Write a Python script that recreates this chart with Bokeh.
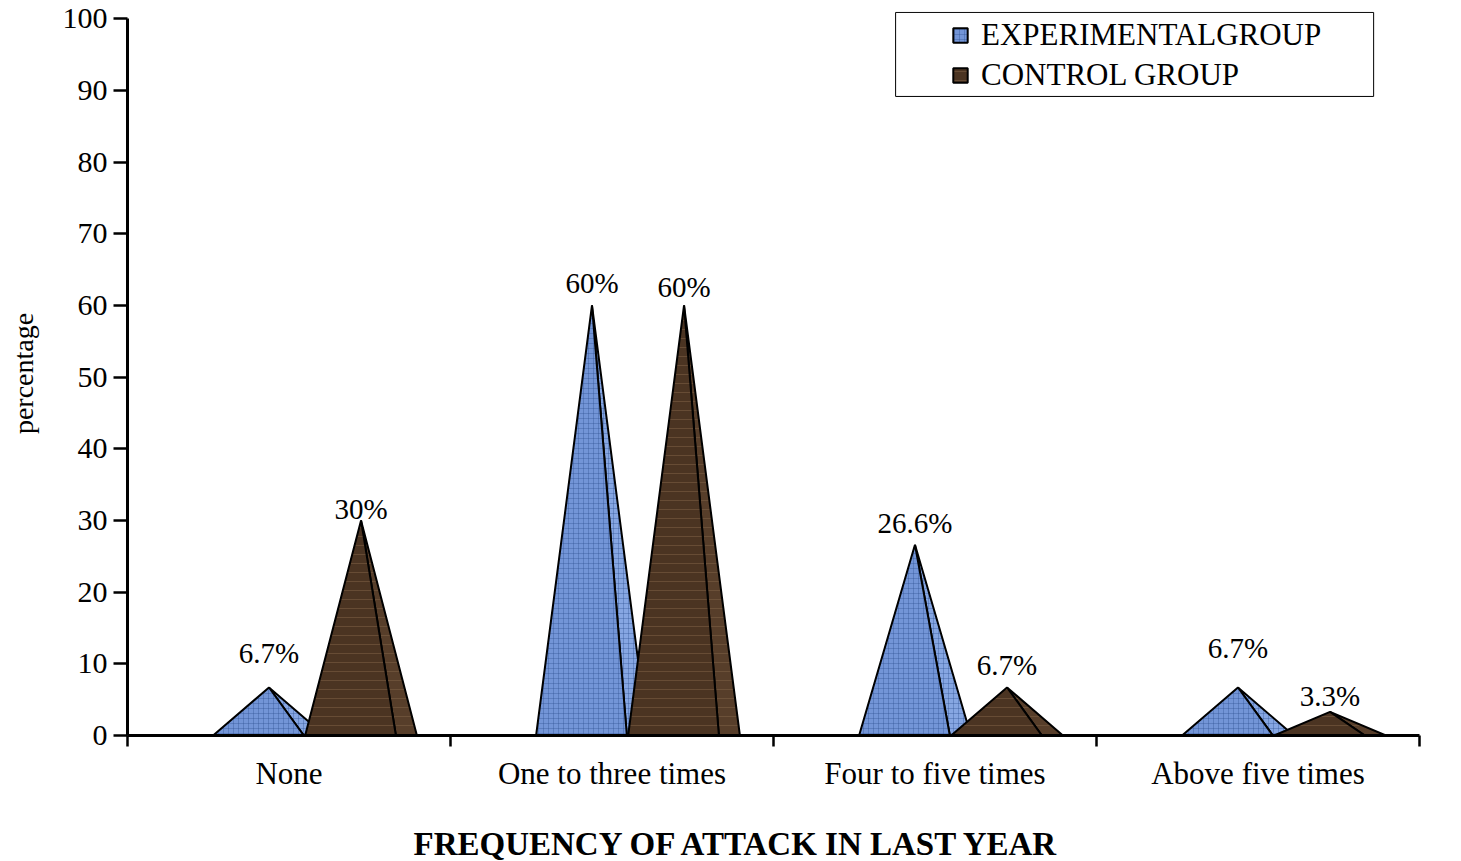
from bokeh.plotting import figure
from bokeh.models import (Range1d, FixedTicker, CustomJSTickFormatter, Legend, LegendItem,
                          BoxAnnotation, ColumnDataSource, Title)
from bokeh.core.properties import value
from bokeh.embed import file_html
from bokeh.resources import INLINE

# ---------------- data ----------------
categories = ["None", "One to three times", "Four to five times", "Above five times"]
experimental = [6.7, 60, 26.6, 6.7]
control = [30, 60, 6.7, 3.3]
exp_labels = ["6.7%", "60%", "26.6%", "6.7%"]
ctrl_labels = ["30%", "60%", "6.7%", "3.3%"]
y_ticks = [0, 10, 20, 30, 40, 50, 60, 70, 80, 90, 100]
x_title = "FREQUENCY OF ATTACK IN LAST YEAR"

# ---------------- layout constants (category units) ----------------
EXP_SHIFT = -0.062
CTRL_SHIFT = 0.223
HALF = 0.173
FRONT = 0.108
FONT = "Liberation Serif"

# label offsets (screen px, relative to apex)
exp_dy = [-34, -22, -22, -39]
ctrl_dy = [-11, -18, -22, -16]


def faces(vals, shift):
    fx, fy, bx, by, cx = [], [], [], [], []
    for i, v in enumerate(vals):
        c = i + 0.5 + shift
        cx.append(c)
        fx.append([c - HALF, c, c + FRONT])
        fy.append([0, v, 0])
        bx.append([c + FRONT, c, c + HALF])
        by.append([0, v, 0])
    return fx, fy, bx, by, cx


efx, efy, ebx, eby, ecx = faces(experimental, EXP_SHIFT)
cfx, cfy, cbx, cby, ccx = faces(control, CTRL_SHIFT)

p = figure(frame_width=1292, frame_height=724,
           x_range=Range1d(0, 4), y_range=Range1d(0, 101),
           output_backend="svg", toolbar_location=None,
           min_border_left=127, min_border_right=34, min_border_top=11, min_border_bottom=124)
p.xgrid.visible = False
p.ygrid.visible = False
p.outline_line_color = None
p.background_fill_color = "white"
p.border_fill_color = "white"

blue_kw = dict(line_color="black", line_width=2, hatch_pattern="+", hatch_scale=5,
               hatch_color="#2f4f8f", hatch_alpha=0.35, hatch_weight=1)
brown_kw = dict(line_color="black", line_width=2, hatch_pattern="-", hatch_scale=9,
                hatch_color="#7d6045", hatch_alpha=0.55, hatch_weight=1)

r_eb = p.patches(ebx, eby, fill_color="#86a6e2", **blue_kw)
r_ef = p.patches(efx, efy, fill_color="#7395d7", **blue_kw)
r_cb = p.patches(cbx, cby, fill_color="#573e2a", **brown_kw)
r_cf = p.patches(cfx, cfy, fill_color="#4b3422", **brown_kw)

lab_src = ColumnDataSource(dict(
    x=ecx + ccx,
    y=experimental + control,
    text=exp_labels + ctrl_labels,
    dy=exp_dy + ctrl_dy,
))
p.text(x="x", y="y", text="text", y_offset="dy", source=lab_src,
       text_align="center", text_baseline="middle",
       text_font=value(FONT), text_font_size=value("29px"), text_color="black")

# ---------------- axes ----------------
ya = p.yaxis[0]
ya.ticker = FixedTicker(ticks=y_ticks)
ya.bounds = (0, 100)
ya.axis_line_width = 3
ya.axis_line_color = "black"
ya.major_tick_line_width = 2.5
ya.major_tick_line_color = "black"
ya.major_tick_out = 14
ya.major_tick_in = 0
ya.minor_tick_out = 0
ya.minor_tick_in = 0
ya.major_label_text_font = FONT
ya.major_label_text_font_size = "30px"
ya.major_label_text_color = "black"
ya.major_label_standoff = 6
ya.axis_label = "percentage"
ya.axis_label_text_font = FONT
ya.axis_label_text_font_style = "normal"
ya.axis_label_text_font_size = "28px"
ya.axis_label_text_color = "black"
ya.axis_label_standoff = 21

xa = p.xaxis[0]
xa.ticker = FixedTicker(ticks=[i + 0.5 for i in range(len(categories))],
                        minor_ticks=[float(i) for i in range(len(categories) + 1)])
xa.formatter = CustomJSTickFormatter(args=dict(cats=categories),
                                     code="return cats[Math.floor(tick)] || '';")
xa.axis_line_width = 3
xa.axis_line_color = "black"
xa.major_tick_out = 0
xa.major_tick_in = 0
xa.minor_tick_out = 11
xa.minor_tick_in = 0
xa.minor_tick_line_width = 2.5
xa.minor_tick_line_color = "black"
xa.major_label_text_font = FONT
xa.major_label_text_font_size = "31px"
xa.major_label_text_color = "black"
xa.major_label_standoff = 9

# x-axis title, placed left of the frame centre (as in the reference)
p.add_layout(Title(text=x_title, align="left", offset=286, standoff=60,
                   text_font=FONT, text_font_style="bold", text_font_size="33px",
                   text_color="black"), "below")

# ---------------- legend ----------------
box = BoxAnnotation(left=2.378, right=3.858, bottom=89.15, top=100.87,
                    fill_alpha=0, line_color="black", line_alpha=1, line_width=1)
p.add_layout(box)

legend = Legend(items=[LegendItem(label="EXPERIMENTALGROUP", renderers=[r_ef]),
                       LegendItem(label="CONTROL GROUP", renderers=[r_cf])],
                location=(824, 642), padding=0, spacing=4,
                border_line_alpha=0, background_fill_alpha=0,
                glyph_width=18, glyph_height=18, label_standoff=12, label_height=30,
                label_text_font=FONT, label_text_font_size="31px", label_text_color="black")
p.add_layout(legend, "center")

open("out.html", "w").write(file_html(p, INLINE))
